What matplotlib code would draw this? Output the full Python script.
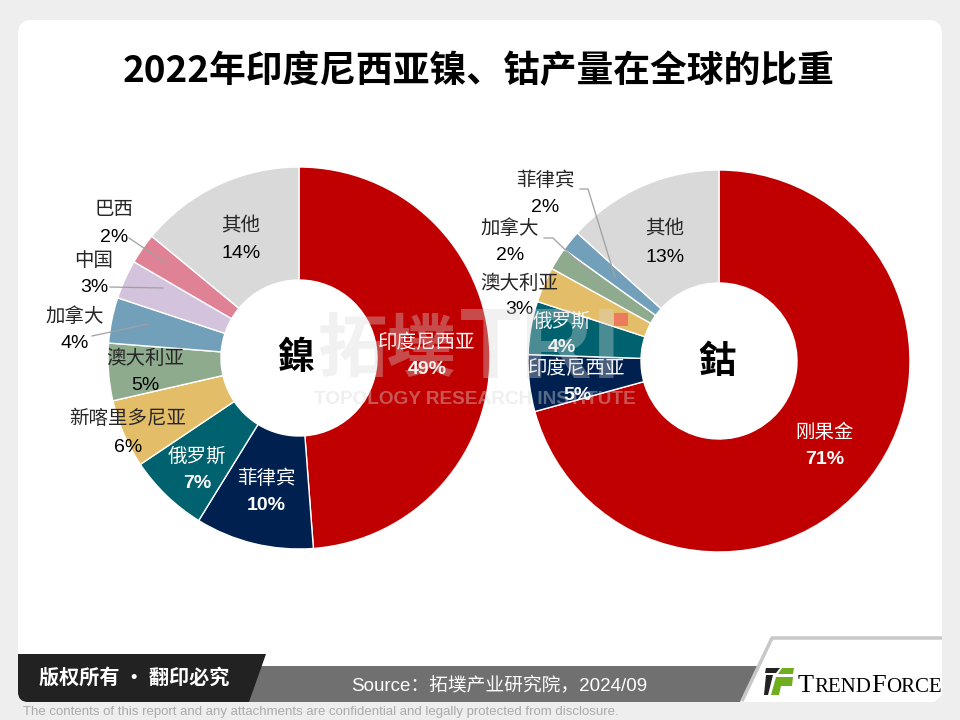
# plot.py - 2022 nickel / cobalt share donuts
import matplotlib
matplotlib.use('Agg')
import matplotlib.pyplot as plt
from matplotlib.patches import FancyBboxPatch, Polygon, Rectangle

plt.rcParams['font.family'] = ['Noto Sans CJK SC', 'DejaVu Sans']

TITLE = '2022年印度尼西亚镍、钴产量在全球的比重'

nickel_names = ['印度尼西亚', '菲律宾', '俄罗斯', '新喀里多尼亚', '澳大利亚', '加拿大', '中国', '巴西', '其他']
nickel_values = [48.8, 10, 6.8, 5.8, 4.85, 3.85, 3.3, 2.6, 14]
nickel_pct = [49, 10, 7, 6, 5, 4, 3, 2, 14]
nickel_colors = ['#c00000', '#002050', '#00626f', '#e4bd68', '#8eab8e', '#72a0bb', '#d3c3dc', '#e08296', '#d9d9d9']

cobalt_names = ['刚果金', '印度尼西亚', '俄罗斯', '澳大利亚', '加拿大', '菲律宾', '其他']
cobalt_values = [70.7, 4.8, 4.5, 3, 1.9, 1.75, 13.3]
cobalt_pct = [71, 5, 4, 3, 2, 2, 13]
cobalt_colors = ['#c00000', '#002050', '#00626f', '#e4bd68', '#8eab8e', '#72a0bb', '#d9d9d9']

# name centre x, name y, pct y, text colour
nickel_labels = [(427, 343, 369, 'white'), (266, 479, 506, 'white'), (197, 456, 483, 'white'),
                 (128, 419, 447, 'black'), (145, 358, 385, 'black'), (75, 317, 344, 'black'),
                 (94, 260, 288, 'black'), (114, 209, 237, 'black'), (241, 226, 254, 'black')]
cobalt_labels = [(825, 432, 459, 'white'), (577, 368, 396, 'white'), (562, 321, 348, 'white'),
                 (519, 283, 310, 'black'), (510, 228, 255, 'black'), (545, 180, 208, 'black'),
                 (665, 229, 257, 'black')]

# leader lines, pixel coords
nickel_leaders = [[(129, 238), (166, 263)], [(110, 287), (163, 288)], [(92, 336), (148, 324)]]
cobalt_leaders = [[(580, 189), (588, 189), (615, 277)], [(544, 238), (553, 238), (606, 289)]]

W, H = 960, 720
fig = plt.figure(figsize=(W / 100, H / 100), dpi=100, facecolor='#eeeeee')

bg = fig.add_axes([0, 0, 1, 1], zorder=0)
bg.set_xlim(0, W)
bg.set_ylim(H, 0)
bg.axis('off')
bg.add_patch(FancyBboxPatch((18, 20), 924, 682, boxstyle='round,pad=0,rounding_size=14', fc='white', ec='none'))


def donut(values, colors, cx, cy, r, hole):
    ax = fig.add_axes([(cx - r) / W, 1 - (cy + r) / H, 2 * r / W, 2 * r / H], zorder=1)
    ax.pie(values, colors=colors, startangle=90, counterclock=False, radius=1,
           wedgeprops=dict(width=1 - hole / r, edgecolor='white', linewidth=1))
    ax.set_xlim(-1, 1)
    ax.set_ylim(-1, 1)
    return ax


donut(nickel_values, nickel_colors, 299, 358, 191, 78)
donut(cobalt_values, cobalt_colors, 719, 361, 191, 78)

top = fig.add_axes([0, 0, 1, 1], zorder=2)
top.set_xlim(0, W)
top.set_ylim(H, 0)
top.axis('off')
top.patch.set_alpha(0)

top.text(479, 72, TITLE, fontsize=26.5, fontweight='bold', ha='center', va='center', color='black')
top.text(297, 358, '鎳', fontsize=27, fontweight='bold', ha='center', va='center', color='black',
         family=['Noto Sans CJK TC', 'DejaVu Sans'])
top.text(717, 361, '鈷', fontsize=27, fontweight='bold', ha='center', va='center', color='black',
         family=['Noto Sans CJK TC', 'DejaVu Sans'])

for line in nickel_leaders + cobalt_leaders:
    top.plot([p[0] for p in line], [p[1] for p in line], color='#a0a0a0', lw=0.9)


def labels(names, pct, pos):
    for name, val, (x, y1, y2, col) in zip(names, pct, pos):
        name_col = col if col == 'white' else '#262626'
        top.text(x, y1, name, fontsize=14, ha='center', va='center', color=name_col, fontweight='light')
        top.text(x, y2, f'{val}%', fontsize=14, ha='center', va='center', color=col,
                 family='Liberation Sans', fontweight='bold' if col == 'white' else 'normal')


labels(nickel_names, nickel_pct, nickel_labels)
labels(cobalt_names, cobalt_pct, cobalt_labels)

# watermark over the charts
top.text(387, 351, '拓墣', fontsize=50, fontweight='bold', ha='center', va='center', color='#d9d9d9', alpha=0.35)
top.text(460, 352, 'TRI', fontsize=72, fontweight='bold', ha='left', va='center', color='#d9d9d9', alpha=0.35,
         family='Liberation Sans')
top.text(475, 400, 'TOPOLOGY RESEARCH INSTITUTE', fontsize=13.7, fontweight='bold', ha='center', va='center',
         color='#d9d9d9', alpha=0.4, family='Liberation Sans')
top.add_patch(Rectangle((614, 313), 14, 13, fc='#ec7a5c', ec='none'))

# footer
top.add_patch(Polygon([(240, 666), (759, 666), (740, 702), (240, 702)], fc='#707070', ec='none'))
top.add_patch(FancyBboxPatch((18, 670), 60, 32, boxstyle='round,pad=0,rounding_size=10', fc='#222222', ec='none'))
top.add_patch(Polygon([(18, 654), (266, 654), (249, 702), (40, 702), (18, 690)], fc='#222222', ec='none'))
top.text(134, 677, '版权所有 · 翻印必究', fontsize=14.5, fontweight='bold', color='white', ha='center', va='center')
top.text(499, 685, 'Source：拓墣产业研究院，2024/09', fontsize=13.5, color='white', ha='center', va='center',
         family=['Liberation Sans', 'Noto Sans CJK SC'])
top.text(23, 712, 'The contents of this report and any attachments are confidential and legally protected from disclosure.',
         fontsize=9.55, color='#aaaaaa', ha='left', va='center', family='Liberation Sans')

# logo corner
top.add_patch(Polygon([(744, 702), (772, 640), (942, 640), (942, 695), (934, 702)], fc='white', ec='none'))
top.plot([742, 772, 942], [701, 638, 638], color='#c8c8c8', lw=2.5, solid_capstyle='butt')
top.add_patch(Polygon([(766, 668), (780, 668), (776, 673), (765, 673)], fc='#222222', ec='none'))
top.add_patch(Polygon([(766, 675), (773, 675), (768, 695), (764, 695)], fc='#222222', ec='none'))
top.add_patch(Polygon([(782, 668), (794, 668), (793, 674), (778, 674)], fc='#6fae1e', ec='none'))
top.add_patch(Polygon([(776, 677), (793, 677), (792, 686), (781, 686), (779, 695), (771, 695)], fc='#6fae1e', ec='none'))

# small caps wordmark, placed piece by piece
x = 798
renderer = fig.canvas.get_renderer()
for piece, size in [('T', 19), ('REND', 15), ('F', 19), ('ORCE', 15)]:
    t = top.text(x, 692, piece, fontsize=size, color='black', ha='left', va='baseline', family='Liberation Serif')
    x += t.get_window_extent(renderer).width

fig.savefig('out.png', dpi=100, facecolor=fig.get_facecolor())
